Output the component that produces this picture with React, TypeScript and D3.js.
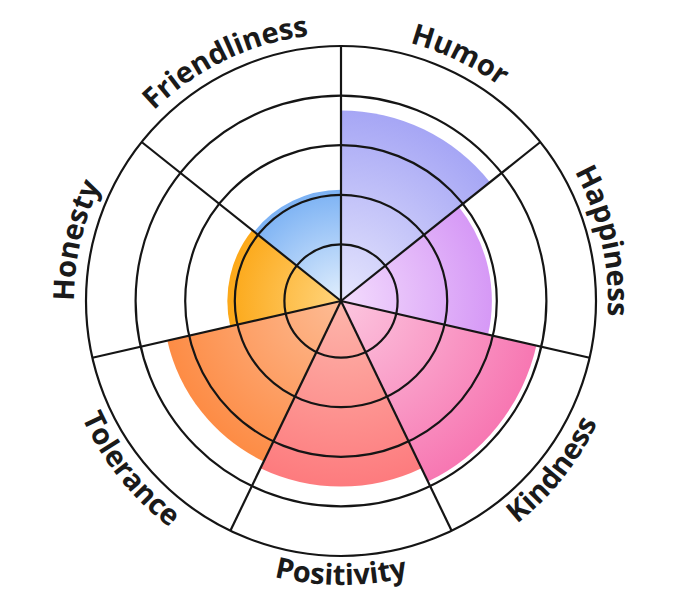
import React from "react";
import * as d3 from "d3";

// категории и значения
const categories = ["Humor", "Happiness", "Kindness", "Positivity", "Tolerance", "Honesty", "Friendliness"];
const values = [3.7, 2.9, 3.9, 3.6, 3.45, 2.15, 2.1];
const ringLevels = [1, 2, 3, 4, 5];

// цвета секторов: внешний и внутренний
const outerColors = ["#a6a6f5", "#d699f6", "#f777b2", "#fd7b7e", "#fd8c45", "#fca818", "#7cb2f4"];
const innerColors = ["#e6e6fd", "#f3dcfd", "#fcc6df", "#fdb6ab", "#fdbb94", "#ffd47c", "#e2effd"];

const width = 680;
const height = 608;
const cx = 341;
const cy = 301;

const App = () => {
    const n = categories.length;
    const step = (2 * Math.PI) / n;

    const r = d3.scaleLinear().domain([0, 5]).range([7, 255]);
    const outerR = r(5);

    const arc = d3.arc<any>().innerRadius(0);

    // путь для подписи по дуге
    const labelPath = (i: number) => {
        const mid = i * step + step / 2;
        const span = (80 * Math.PI) / 180;
        const flip = mid > Math.PI / 2 && mid < (3 * Math.PI) / 2;
        const p = d3.path();
        if (!flip) {
            const R = outerR + 12;
            p.arc(0, 0, R, mid - span - Math.PI / 2, mid + span - Math.PI / 2, false);
        } else {
            const R = outerR + 29;
            p.arc(0, 0, R, mid + span - Math.PI / 2, mid - span - Math.PI / 2, true);
        }
        return p.toString();
    };

    return (
        <svg
            width={width}
            height={height}
            style={{ position: "absolute", left: 0, top: 0, background: "#fff" }}
        >
            <defs>
                {categories.map((c, i) => (
                    <radialGradient
                        key={c}
                        id={`grad-${i}`}
                        gradientUnits="userSpaceOnUse"
                        cx={0}
                        cy={0}
                        r={r(values[i])}
                    >
                        <stop offset="0%" stopColor={innerColors[i]} />
                        <stop offset="100%" stopColor={outerColors[i]} />
                    </radialGradient>
                ))}
                {categories.map((c, i) => (
                    <path key={c} id={`label-path-${i}`} d={labelPath(i)} fill="none" />
                ))}
            </defs>
            <g transform={`translate(${cx},${cy})`}>
                {/* сектора */}
                {values.map((v, i) => (
                    <path
                        key={categories[i]}
                        d={arc({ outerRadius: r(v), startAngle: i * step, endAngle: (i + 1) * step }) as string}
                        fill={`url(#grad-${i})`}
                    />
                ))}
                {/* кольца */}
                {ringLevels.map((l) => (
                    <circle key={l} r={r(l)} fill="none" stroke="#151515" strokeWidth={2.2} />
                ))}
                {/* спицы */}
                {categories.map((c, i) => {
                    const a = i * step;
                    return (
                        <line
                            key={c}
                            x1={0}
                            y1={0}
                            x2={outerR * Math.sin(a)}
                            y2={-outerR * Math.cos(a)}
                            stroke="#151515"
                            strokeWidth={2.2}
                        />
                    );
                })}
                {/* подписи */}
                {categories.map((c, i) => (
                    <text
                        key={c}
                        fontFamily="'Open Sans', sans-serif"
                        fontWeight={700}
                        fontSize={29}
                        fill="#1a1a1a"
                    >
                        <textPath href={`#label-path-${i}`} startOffset="50%" textAnchor="middle">
                            {c}
                        </textPath>
                    </text>
                ))}
            </g>
        </svg>
    );
};

export default App;
